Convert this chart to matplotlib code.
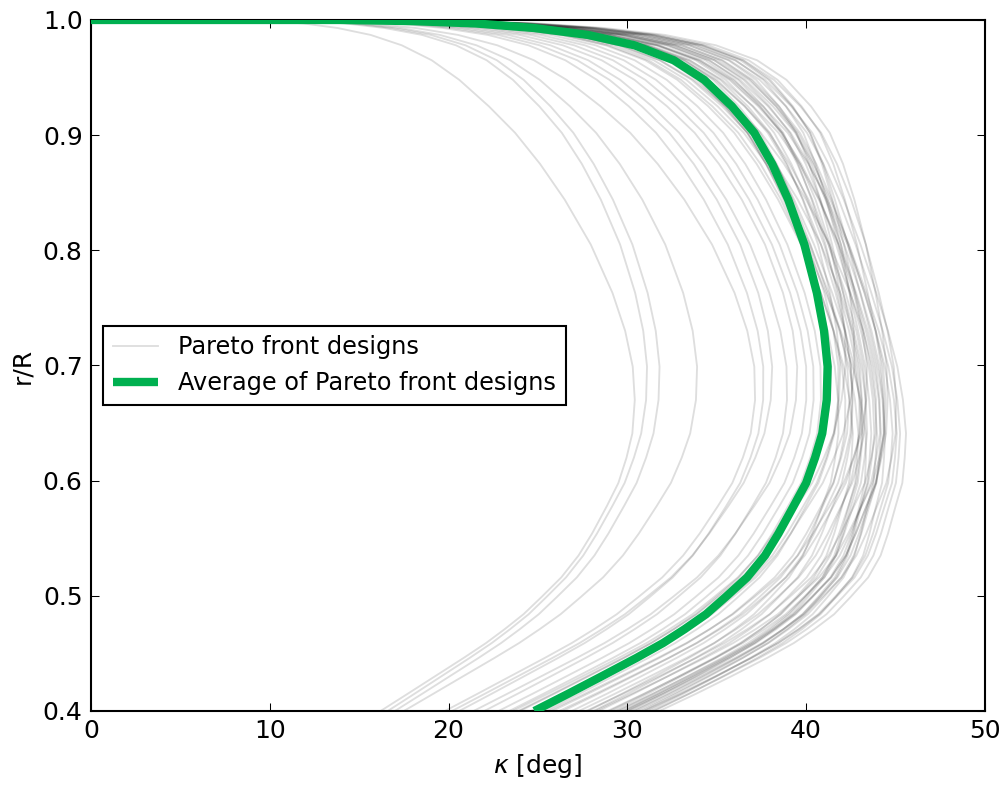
import matplotlib
matplotlib.use("Agg")
import matplotlib.pyplot as plt
import numpy as np

# average design (kappa in deg vs r/R)
avg_r = [1.000, 1.000, 1.000, 0.999, 0.997, 0.993, 0.987, 0.978, 0.965, 0.948,
         0.925, 0.902, 0.875, 0.844, 0.805, 0.763, 0.730, 0.699, 0.670, 0.641,
         0.620, 0.598, 0.578, 0.554, 0.535, 0.516, 0.499, 0.484, 0.471, 0.459,
         0.446, 0.430, 0.415, 0.400]
avg_kappa = [0.0, 10.0, 14.0, 18.0, 21.5, 24.8, 27.8, 30.4, 32.6, 34.3,
             35.85, 37.1, 38.1, 39.0, 39.9, 40.6, 41.0, 41.2, 41.15, 40.9,
             40.5, 40.0, 39.3, 38.45, 37.7, 36.7, 35.5, 34.4, 33.2, 32.0,
             30.5, 28.55, 26.7, 24.8]

# each Pareto design: kappa at r/R=0.948, at the bulge (r/R~0.70) and at r/R=0.4
design_top = [20.6, 23.6, 24.2, 25.1, 26.6, 28.3, 29.0, 29.6, 30.4, 31.0, 31.6, 32.2,
              33.0, 34.5, 33.6, 35.2, 32.8, 34.0, 35.8, 33.3, 34.8, 36.2, 35.0, 33.9,
              36.8, 34.4, 35.5, 37.2, 33.7, 36.0, 34.9, 37.6, 35.3, 36.5, 38.0, 34.2,
              36.9, 35.7, 37.9, 36.3, 38.4, 35.9, 37.0, 38.9, 36.6, 37.4, 38.2, 37.7]
design_peak = [30.3, 31.1, 31.8, 33.9, 37.1, 37.6, 38.1, 38.9, 39.5, 40.0, 40.4, 40.8,
               41.4, 41.6, 41.8, 41.9, 42.0, 42.1, 42.2, 42.3, 42.4, 42.5, 42.5, 42.6,
               42.7, 42.7, 42.8, 42.9, 43.0, 43.1, 43.2, 43.3, 43.4, 43.5, 43.6, 43.7,
               43.8, 43.9, 44.0, 44.1, 44.2, 44.3, 44.4, 44.5, 44.6, 44.8, 44.9, 45.1]
design_bottom = [16.2, 16.6, 17.0, 17.5, 19.8, 20.6, 20.2, 22.0, 21.4, 22.8, 23.4, 24.0,
                 23.6, 27.8, 24.6, 25.4, 26.4, 29.2, 23.9, 25.8, 29.8, 28.1, 26.9, 30.4,
                 24.8, 29.0, 28.4, 30.1, 26.2, 29.5, 27.3, 30.8, 25.6, 29.9, 31.2, 27.7,
                 30.6, 28.9, 31.5, 29.4, 30.3, 28.2, 31.0, 29.7, 30.9, 31.4, 30.0, 31.8]

R_TOP, R_PK, R_BOT = 0.948, 0.699, 0.400


def design_curve(top, peak, bottom):
    # stretch the average profile so it passes through the three read values
    r = np.array(avg_r)
    k = np.array(avg_kappa)
    anchors = [(R_TOP, top / 34.3), (R_PK, peak / 41.2), (R_BOT, bottom / 24.8)]
    scale = np.zeros_like(r)
    for i, (ri, si) in enumerate(anchors):
        w = np.ones_like(r)
        for j, (rj, _) in enumerate(anchors):
            if j != i:
                w *= (r - rj) / (ri - rj)
        scale += si * w
    return k * scale, r


fig, ax = plt.subplots(figsize=(1003 / 150, 789 / 150), dpi=150)
fig.subplots_adjust(left=0.0907, right=0.982, bottom=0.0989, top=0.9747)

for i, (t, p, b) in enumerate(zip(design_top, design_peak, design_bottom)):
    kap, r = design_curve(t, p, b)
    ax.plot(kap, r, color="k", alpha=0.13, lw=0.9,
            label="Pareto front designs" if i == 0 else None)

ax.plot(avg_kappa, avg_r, color="#00b050", lw=4.0, solid_capstyle="butt",
        solid_joinstyle="round", label="Average of Pareto front designs", zorder=5)

ax.set_xlim(0, 50)
ax.set_ylim(0.4, 1.0)
ax.set_xticks(np.arange(0, 51, 10))
ax.set_yticks(np.arange(0.4, 1.01, 0.1))
ax.set_yticklabels([f"{v:.1f}" for v in np.arange(0.4, 1.01, 0.1)])
ax.tick_params(direction="in", top=True, right=True, length=4, width=0.5,
               pad=4, labelsize=12)
for sp in ax.spines.values():
    sp.set_linewidth(1.0)

ax.set_xlabel(r"$\kappa$ [deg]", fontsize=12)
ax.set_ylabel("r/R", fontsize=12)

leg = ax.legend(loc="center left", fontsize=11.5, fancybox=False,
                edgecolor="black", framealpha=1.0, borderaxespad=0.5,
                handlelength=1.9, handletextpad=0.85)
leg.get_frame().set_linewidth(1.0)

fig.savefig("out.png", dpi=150)
